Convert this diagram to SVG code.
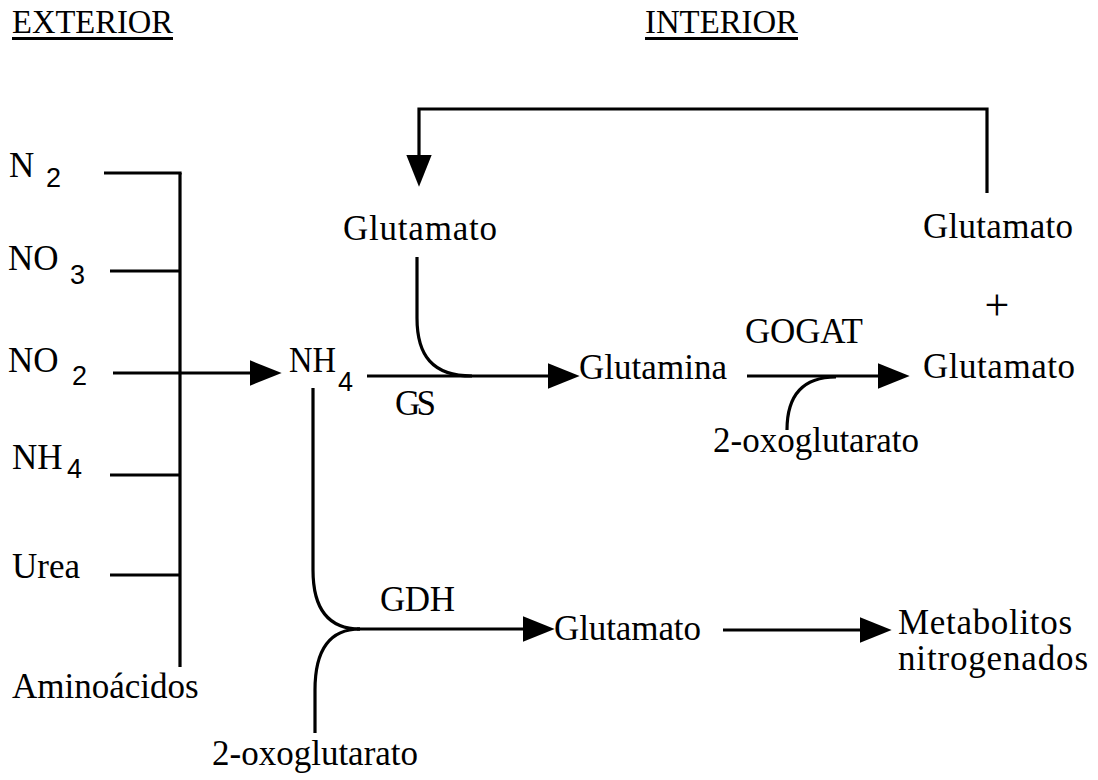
<svg xmlns="http://www.w3.org/2000/svg" width="1098" height="780" viewBox="0 0 1098 780">
<style>
  .t { font-family: "Liberation Serif", "Times New Roman", serif; font-size: 35px; fill: #000; }
  .s { font-family: "Liberation Sans", Arial, sans-serif; font-size: 27px; fill: #000; }
  .h { font-family: "Liberation Serif", "Times New Roman", serif; font-size: 34px; fill: #000; }
  .ln { stroke: #000; stroke-width: 3.2; fill: none; }
  .ar { stroke: #000; stroke-width: 3.2; fill: none; marker-end: url(#arrow); }
</style>
<defs>
  <marker id="arrow" markerUnits="userSpaceOnUse" markerWidth="32" markerHeight="26" viewBox="0 0 30 24" refX="5" refY="12" orient="auto">
    <path d="M0,0 L30,12 L0,24 z" fill="#000"/>
  </marker>
</defs>
<rect width="1098" height="780" fill="#fff"/>

<g id="title-exterior">
  <text class="h" x="12" y="33" textLength="161" lengthAdjust="spacingAndGlyphs">EXTERIOR</text>
  <line class="ln" x1="12" y1="38.5" x2="173" y2="38.5" stroke-width="2.5"/>
</g>
<g id="title-interior">
  <text class="h" x="645" y="33" textLength="153" lengthAdjust="spacingAndGlyphs">INTERIOR</text>
  <line class="ln" x1="645" y1="38.5" x2="798" y2="38.5" stroke-width="2.5"/>
</g>

<g id="n2"><text class="t" x="9" y="177">N</text><text class="s" x="46" y="187">2</text></g>
<g id="no3"><text class="t" x="8" y="270">NO</text><text class="s" x="70" y="284">3</text></g>
<g id="no2"><text class="t" x="8" y="372">NO</text><text class="s" x="72" y="385">2</text></g>
<g id="nh4-ext"><text class="t" x="12" y="469">NH</text><text class="s" x="67" y="478">4</text></g>
<g id="urea"><text class="t" x="12" y="578">Urea</text></g>
<g id="aminoacidos"><text class="t" x="12" y="698">Aminoácidos</text></g>

<g id="nh4"><text class="t" x="289" y="372" textLength="47" lengthAdjust="spacingAndGlyphs">NH</text><text class="s" x="338" y="391">4</text></g>
<g id="glutamato-top"><text class="t" x="343" y="240" textLength="154">Glutamato</text></g>
<g id="glutamato-right"><text class="t" x="923" y="238" textLength="150">Glutamato</text></g>
<g id="plus"><text class="t" x="997" y="320" text-anchor="middle" style="font-size:44px">+</text></g>
<g id="glutamina"><text class="t" x="579" y="379" textLength="148">Glutamina</text></g>
<g id="glutamato-gogat"><text class="t" x="923" y="378" textLength="152">Glutamato</text></g>
<g id="gogat"><text class="t" x="745" y="343" textLength="118">GOGAT</text></g>
<g id="gs"><text class="t" x="395" y="415" textLength="41">GS</text></g>
<g id="oxo-gogat"><text class="t" x="713" y="452">2-oxoglutarato</text></g>
<g id="gdh"><text class="t" x="380" y="611" textLength="75">GDH</text></g>
<g id="glutamato-gdh"><text class="t" x="554" y="640" textLength="147">Glutamato</text></g>
<g id="metabolitos"><text class="t" x="898" y="634" textLength="174">Metabolitos</text><text class="t" x="898" y="670" textLength="190">nitrogenados</text></g>
<g id="oxo-gdh"><text class="t" x="212" y="765">2-oxoglutarato</text></g>

<g id="connectors">
  <line class="ln" x1="180" y1="173" x2="180" y2="667"/>
  <line class="ln" x1="104" y1="173" x2="181.6" y2="173"/>
  <line class="ln" x1="110" y1="271" x2="180" y2="271"/>
  <line class="ln" x1="110" y1="475" x2="180" y2="475"/>
  <line class="ln" x1="110" y1="575" x2="180" y2="575"/>
  <line class="ar" x1="113" y1="373" x2="255" y2="373"/>
  <polyline class="ln" points="987,193 987,109 419,109 419,160" style="marker-end:url(#arrow)"/>
  <line class="ar" x1="367" y1="376" x2="553" y2="376"/>
  <path class="ln" d="M417,257 L417,318 C417,355 432,376 472,376"/>
  <line class="ar" x1="747" y1="376" x2="883" y2="376"/>
  <path class="ln" d="M787,430 C787,398 800,377 836,377"/>
  <path class="ln" d="M313,388 L313,570 C313,608 328,629 360,629"/>
  <path class="ln" d="M360,629 C330,629 315,650 315,690 L315,733"/>
  <line class="ar" x1="357" y1="629" x2="528" y2="629"/>
  <line class="ar" x1="723" y1="630" x2="865" y2="630"/>
</g>
</svg>
